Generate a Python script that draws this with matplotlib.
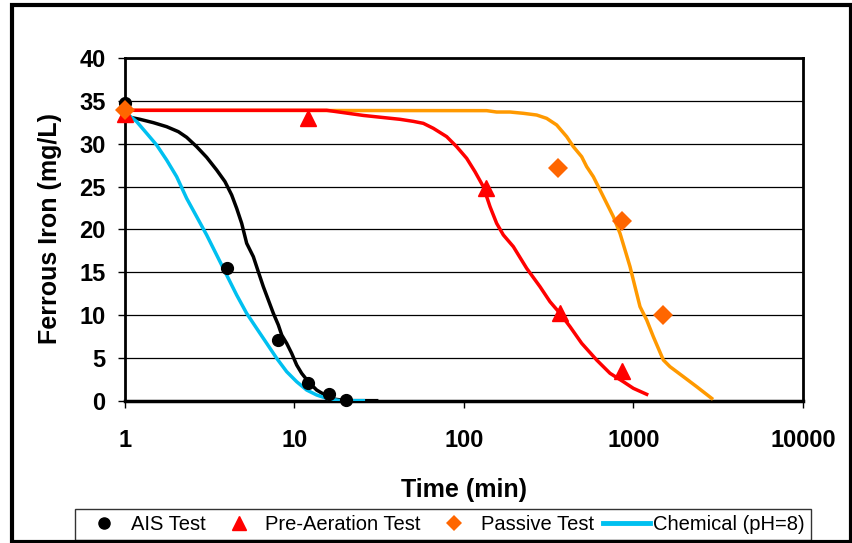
import matplotlib
matplotlib.use("Agg")
import matplotlib.pyplot as plt
from matplotlib.lines import Line2D
from matplotlib.patches import Rectangle

plt.rcParams['font.family'] = ['Liberation Sans', 'DejaVu Sans']

# Measured data points
ais_t = [1, 4, 8, 12, 16, 20]
ais_fe = [34.8, 15.5, 7.1, 2.1, 0.8, 0.1]
pre_t = [1, 12, 135, 370, 860]
pre_fe = [33.5, 33.0, 24.8, 10.3, 3.5]
pas_t = [1, 360, 860, 1500]
pas_fe = [33.9, 27.2, 21.0, 10.0]

# Model curves
ais_model_t = [1.0, 1.226, 1.47, 1.761, 2.064, 2.311, 2.647, 3.032, 3.473, 3.89, 4.26,
               4.558, 4.879, 5.222, 5.717, 6.115, 6.548, 7.008, 7.503, 8.03, 8.404,
               8.991, 9.623, 10.3, 11.02, 12.07, 13.51, 15.13, 16.95, 20.31, 30.53]
ais_model_fe = [33.2, 32.85, 32.46, 31.99, 31.41, 30.75, 29.66, 28.42, 26.94, 25.58, 24.02,
                22.47, 20.72, 18.39, 16.83, 15.08, 13.33, 11.78, 10.22, 8.86, 7.7,
                6.73, 5.56, 4.2, 3.23, 2.25, 1.28, 0.7, 0.23, 0.04, 0.04]
chem_t = [1.0, 1.172, 1.342, 1.537, 1.761, 2.017, 2.311, 2.647, 3.032, 3.473, 3.979,
          4.558, 5.222, 5.98, 6.852, 7.85, 8.991, 10.3, 11.8, 13.51, 15.48, 18.56, 25.48]
chem_fe = [33.7, 32.58, 31.22, 29.85, 28.1, 26.16, 23.63, 21.5, 19.36, 17.03, 14.69,
           12.36, 10.22, 8.47, 6.73, 4.98, 3.42, 2.25, 1.28, 0.7, 0.31, 0.04, 0.04]
pre_model_t = [1, 15.5, 25.5, 41.93, 50.24, 57.56, 65.93, 79.0, 90.5, 103.7, 116.1,
               130.1, 142.4, 155.8, 170.7, 195.5, 234.3, 280.8, 321.6, 368.5, 422.1,
               494.6, 606.3, 726.9, 871.0, 997.7, 1196]
pre_model_fe = [33.9, 33.9, 33.3, 32.85, 32.61, 32.38, 31.8, 30.83, 29.66, 28.3, 26.74,
                24.99, 22.66, 20.72, 19.36, 18.0, 15.47, 13.33, 11.58, 10.22, 8.67,
                6.73, 4.78, 3.23, 2.25, 1.48, 0.78]
pas_model_t = [1, 136.1, 155.8, 186.8, 223.9, 268.4, 307.4, 352.2, 403.4, 441.7, 494.6,
               529.3, 579.4, 634.6, 694.7, 760.3, 832.5, 891.2, 953.7, 1020.6, 1092.5,
               1196, 1309.2, 1499.7, 1642, 1967.7, 2358.6, 2892]
pas_model_fe = [33.9, 33.86, 33.7, 33.7, 33.55, 33.35, 32.96, 32.19, 30.83, 29.66, 28.49,
                27.33, 26.16, 24.61, 23.05, 21.5, 19.55, 17.61, 15.67, 13.33, 11.0,
                9.45, 7.5, 4.78, 4.0, 2.84, 1.67, 0.31]

x_ticks = [1, 10, 100, 1000, 10000]
x_ticklabels = ['1', '10', '100', '1000', '10000']
y_ticks = [0, 5, 10, 15, 20, 25, 30, 35, 40]

fig = plt.figure(figsize=(8.53, 5.43), dpi=100)
ax = fig.add_axes([125/853, 1-401/543, (803-125)/853, (401-58)/543])

for y in y_ticks[1:-1]:
    ax.axhline(y, color='black', lw=0.9, zorder=1)

ax.plot(ais_model_t, ais_model_fe, color='black', lw=2.5, zorder=3)
ax.plot(pas_model_t, pas_model_fe, color='#FF9900', lw=2.5, zorder=3)
ax.plot(pre_model_t, pre_model_fe, color='#FF0000', lw=2.5, zorder=4)
ax.plot(chem_t, chem_fe, color='#00C0F0', lw=2.5, zorder=4)

ax.plot(ais_t, ais_fe, 'o', color='black', ms=8.5, zorder=6, clip_on=False)
ax.plot(pre_t, pre_fe, '^', color='#FF0000', ms=11.5, zorder=6, clip_on=False)
ax.plot(pas_t, pas_fe, 'D', color='#FF6600', ms=10, mew=0, zorder=7, clip_on=False)

ax.set_xscale('log')
ax.set_xlim(1, 10000)
ax.set_ylim(0, 40)
ax.set_xticks(x_ticks)
ax.set_xticklabels(x_ticklabels)
ax.xaxis.set_minor_locator(matplotlib.ticker.NullLocator())
ax.set_yticks(y_ticks)
ax.tick_params(axis='both', direction='out', length=5, width=1, labelsize=17)
ax.tick_params(axis='x', pad=15)
ax.tick_params(axis='y', pad=9)
for lab in ax.get_xticklabels() + ax.get_yticklabels():
    lab.set_fontweight('bold')
for s in ['left', 'right', 'top']:
    ax.spines[s].set_linewidth(2)
ax.spines['bottom'].set_linewidth(2.5)

fig.text(464/853, 1-490/543, 'Time (min)', fontsize=18, fontweight='bold',
         ha='center', va='center')
fig.text(50/853, 1-228/543, 'Ferrous Iron (mg/L)', fontsize=18, fontweight='bold',
         ha='center', va='center', rotation=90)

handles = [
    Line2D([], [], marker='o', color='black', ls='none', ms=8),
    Line2D([], [], marker='^', color='#FF0000', ls='none', ms=10),
    Line2D([], [], marker='D', color='#FF6600', ls='none', ms=8, mew=0),
    Line2D([], [], color='#00C0F0', lw=3.5),
]
labels = ['AIS Test', 'Pre-Aeration Test', 'Passive Test', 'Chemical (pH=8)']
leg = fig.legend(handles, labels, ncol=4, loc='lower left', mode='expand',
                 bbox_to_anchor=(75/853, 3/543, 736/853, 35/543), fontsize=14.5,
                 frameon=True, fancybox=False, edgecolor='black',
                 handlelength=2.3, handletextpad=0.18, columnspacing=0.3,
                 borderpad=0.3, borderaxespad=0)
leg.get_frame().set_linewidth(1)

fig.patches.append(Rectangle((12.5/853, 1.5/543), (851-12.5)/853, (538-1.5)/543,
                             transform=fig.transFigure, fill=False,
                             edgecolor='black', lw=3, zorder=10))

fig.savefig('out.png', dpi=100)
